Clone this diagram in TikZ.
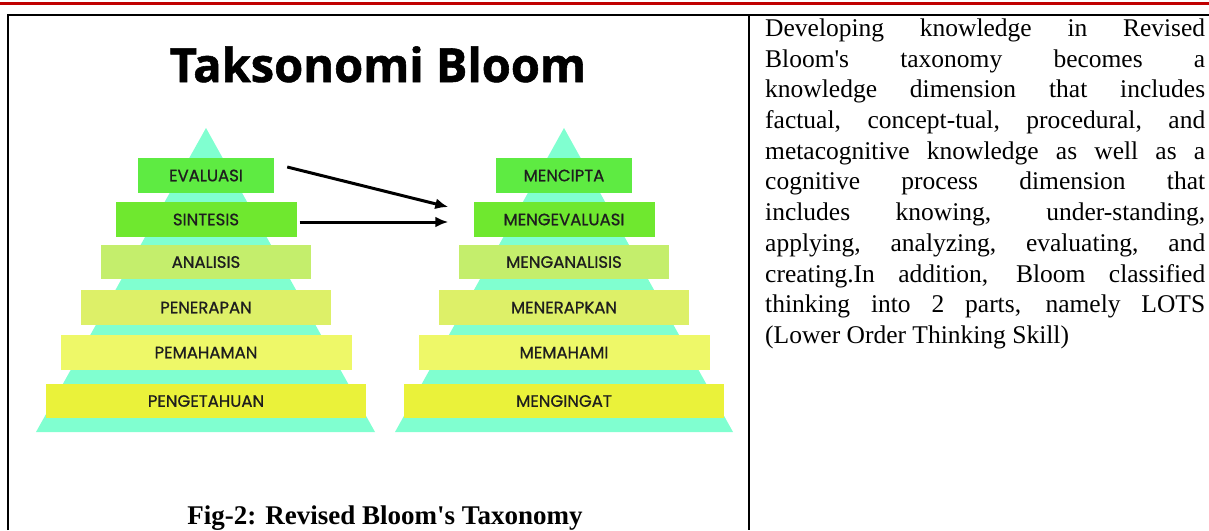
\documentclass[tikz,border=0pt]{standalone}
\usepackage{fontspec}
\setmainfont{Liberation Serif}
\newfontfamily\titlefont[BoldFeatures={FakeBold=1.2}]{Open Sans}
\newfontfamily\lvlfont[FakeBold=0.9]{Poppins}
\usetikzlibrary{positioning,arrows.meta}

\definecolor{mint}{RGB}{128,255,208}
\definecolor{rulered}{RGB}{192,0,0}
\definecolor{lvlA}{RGB}{94,235,66}
\definecolor{lvlB}{RGB}{111,232,47}
\definecolor{lvlC}{RGB}{196,238,108}
\definecolor{lvlD}{RGB}{221,240,104}
\definecolor{lvlE}{RGB}{238,248,104}
\definecolor{lvlF}{RGB}{234,242,58}
\definecolor{lvltext}{RGB}{30,30,30}

\begin{document}
\begin{tikzpicture}[x=1pt,y=-1pt]

        \useasboundingbox (0,0) rectangle (1209,530);

        % page rule and table frame
        \draw[line width=3pt, rulered] (0,3.5) -- (1209,3.5);
        \draw[line width=2pt] (8,530) -- (8,15) -- (1209,15);
        \draw[line width=2pt] (748.5,15) -- (748.5,530);

        \tikzset{
            lvl/.style={rectangle, inner sep=0pt, minimum height=35pt,
                text=lvltext, font=\lvlfont\fontsize{16.5}{18}\selectfont},
            arr/.style={line width=3pt, -{Latex[length=13pt,width=11pt]}}
        }

        \node[anchor=base, font=\titlefont\bfseries\fontsize{47}{50}\selectfont]
            (title) at (378,82) {Taksonomi Bloom};

        % the two pyramids
        \fill[mint] (206,128) -- (36,432) -- (375,432) -- cycle;
        \fill[mint] (564,128) -- (395,432) -- (733,432) -- cycle;

        \begin{scope}
            \node[lvl, fill=lvlA, minimum width=136pt] (L1) at (206,175.5) {EVALUASI};
            \node[lvl, fill=lvlB, minimum width=181pt] (L2) at (206,219.5) {SINTESIS};
            \node[lvl, fill=lvlC, minimum width=210pt, minimum height=34pt]
                (L3) at (206,262) {ANALISIS};
            \node[lvl, fill=lvlD, minimum width=250pt] (L4) at (206,307.5) {PENERAPAN};
            \node[lvl, fill=lvlE, minimum width=291pt] (L5) at (206,352.5) {PEMAHAMAN};
            \node[lvl, fill=lvlF, minimum width=320pt, minimum height=34pt]
                (L6) at (206,401) {PENGETAHUAN};
        \end{scope}

        \begin{scope}
            \node[lvl, fill=lvlA, minimum width=136pt] (R1) at (564,175.5) {MENCIPTA};
            \node[lvl, fill=lvlB, minimum width=181pt] (R2) at (564,219.5) {MENGEVALUASI};
            \node[lvl, fill=lvlC, minimum width=210pt, minimum height=34pt]
                (R3) at (564,262) {MENGANALISIS};
            \node[lvl, fill=lvlD, minimum width=250pt] (R4) at (564,307.5) {MENERAPKAN};
            \node[lvl, fill=lvlE, minimum width=291pt] (R5) at (564,352.5) {MEMAHAMI};
            \node[lvl, fill=lvlF, minimum width=320pt, minimum height=34pt]
                (R6) at (564,401) {MENGINGAT};
        \end{scope}

        \draw[arr] ([xshift=13pt,yshift=8.5pt]L1.east) -- ([xshift=-25pt,yshift=12.5pt]R2.west);
        \draw[arr] ([xshift=3pt,yshift=-2.5pt]L2.east) -- ([xshift=-25pt,yshift=-2.5pt]R2.west);

        \node[anchor=base, font=\bfseries\fontsize{27}{30}\selectfont]
            (caption) at (385,524) {Fig-2: Revised Bloom\textquotesingle s Taxonomy};

        \node[anchor=north west, inner sep=0pt, text width=440pt, align=justify,
            font=\fontsize{25.5}{30.7}\selectfont] (desc) at (765,18.6)
            {\hyphenpenalty=10000 \tolerance=10000
            Developing knowledge in Revised\linebreak
            Bloom\textquotesingle s taxonomy becomes a\linebreak
            knowledge dimension that includes\linebreak
            factual, concept-tual, procedural, and\linebreak
            metacognitive knowledge as well as a\linebreak
            cognitive process dimension that\linebreak
            includes knowing, under-standing,\linebreak
            applying, analyzing, evaluating, and\linebreak
            creating.In addition, Bloom classified\linebreak
            thinking into 2 parts, namely LOTS\linebreak
            (Lower Order Thinking Skill)};

\end{tikzpicture}
\end{document}
